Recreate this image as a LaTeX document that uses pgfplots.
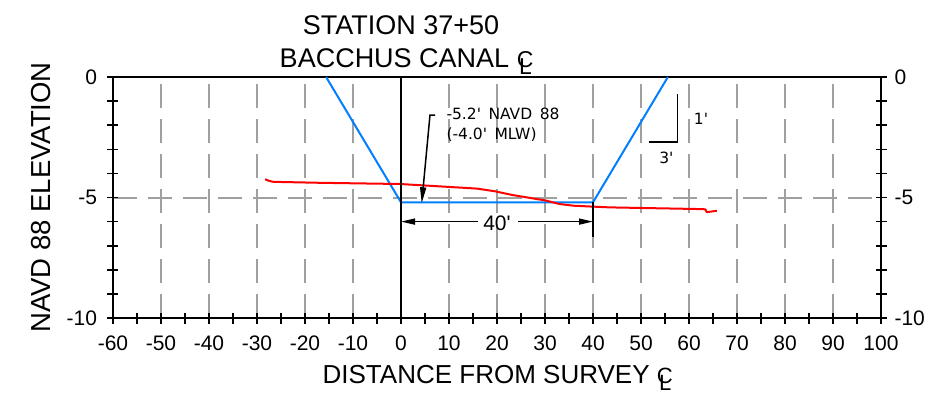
\documentclass[border=0pt]{standalone}
\usepackage{pgfplots}
\pgfplotsset{compat=1.18}
\usepackage{fontspec}
\setmainfont{Liberation Sans}
\newfontfamily\dejavu{DejaVu Sans}
\usetikzlibrary{arrows.meta}
\definecolor{chanblue}{RGB}{0,127,255}
\definecolor{gridgray}{RGB}{160,160,160}
\newcommand{\CL}{\scalebox{0.85}{\rlap{C}\kern0.1em\raisebox{-0.33em}{L}}}
\newcommand{\q}{\textquotesingle}

\begin{document}
\begin{tikzpicture}
\pgfplotsset{
  base/.style={scale only axis, width=768pt, height=241pt,
    xmin=-60, xmax=100, ymin=-10, ymax=0,
    /pgf/number format/assume math mode=true,
    ticklabel style={font=\fontsize{21}{21}\selectfont},
  }}
\begin{axis}[base,
  axis line style={line width=2pt},
  xtick={-60,-50,...,100}, minor x tick num=1,
  ytick={-10,-5,0}, minor y tick num=4,
  xtick pos=bottom, ytick pos=both,
  yticklabel pos=left,
  xticklabel style={yshift=-9pt},
  yticklabel style={xshift=-7pt},
  tick align=center,
  major tick length=11pt, minor tick length=11pt,
  every tick/.style={black, line width=1.6pt},
  xmajorgrids, ymajorgrids,
  major grid style={gridgray, line width=2pt, dash pattern=on 24pt off 11pt},
  clip=false,
]
\addplot[chanblue, line width=2pt] coordinates {(-15.6,0)(0,-5.2)(40,-5.2)(55.6,0)};
\addplot[red, line width=2pt, line join=round] coordinates {
(-28.3,-4.24)(-27.5,-4.31)(-26.6,-4.35)(-16.9,-4.39)(-0.2,-4.44)(15.8,-4.63)
(19.5,-4.74)(23.3,-4.90)(30,-5.12)(33,-5.27)(35.9,-5.34)(40.1,-5.38)(43.5,-5.41)
(62.3,-5.48)(63.4,-5.49)(63.7,-5.61)(65.8,-5.55)};
% annotation leader
\addplot[black, line width=1.5pt, -{Triangle[length=16pt,width=6pt]}] coordinates {(7.1,-1.58)(6.04,-1.58)(4.31,-5.24)};
\node[anchor=base west, font=\dejavu\fontsize{15.5}{15.5}\selectfont] at (axis cs:8.75,-1.78) {-5.2\q\hspace{7.5pt}NAVD\hspace{7.5pt}88};
\node[anchor=base west, font=\dejavu\fontsize{15.5}{15.5}\selectfont] at (axis cs:8.75,-2.61) {(-4.0\q\hspace{7.5pt}MLW)};
% slope indicator
\addplot[black, line width=1.5pt] coordinates {(51.6,-2.7)(57.6,-2.7)(57.6,-0.7)};
\node[anchor=west, font=\dejavu\fontsize{15.5}{15.5}\selectfont] at (axis cs:60.3,-1.74) {1\q};
\node[font=\dejavu\fontsize{15.5}{15.5}\selectfont] at (axis cs:55.3,-3.37) {3\q};
% dimension
\addplot[black, line width=1.5pt, -{Triangle[length=14pt,width=6pt]}] coordinates {(16,-6)(0,-6)};
\addplot[black, line width=1.5pt, -{Triangle[length=14pt,width=6pt]}] coordinates {(24.4,-6)(40,-6)};
\addplot[black, line width=1.5pt] coordinates {(40,-5.2)(40,-6.64)};
\node[font=\fontsize{21}{21}\selectfont] at (axis cs:20,-6.07) {40\q};
% x=0 line
\addplot[black, line width=2pt] coordinates {(0,0)(0,-10)};
% titles and labels
\node[anchor=base, font=\fontsize{27}{27}\selectfont] at (axis cs:0,1.78) {STATION 37+50};
\node[anchor=base, font=\fontsize{27}{27}\selectfont] at (axis cs:1,0.41) {BACCHUS CANAL \CL};
\node[anchor=base, font=\fontsize{26}{26}\selectfont] at (axis cs:20,-12.71) {DISTANCE FROM SURVEY \CL};
\node[anchor=base, rotate=90, font=\fontsize{27.5}{27.5}\selectfont] at (axis cs:-73.1,-5) {NAVD 88 ELEVATION};
\end{axis}
\begin{axis}[base, hide x axis, axis y line*=right,
  ytick={-10,-5,0}, yticklabel pos=right, major tick length=0pt,
  yticklabel style={xshift=10pt},
  y axis line style={draw=none}, minor y tick num=0]
\addplot[draw=none] coordinates {(0,0)};
\end{axis}
\pgfresetboundingbox
\useasboundingbox (-113pt,-89pt) rectangle (821pt,318pt);
\end{tikzpicture}
\end{document}
